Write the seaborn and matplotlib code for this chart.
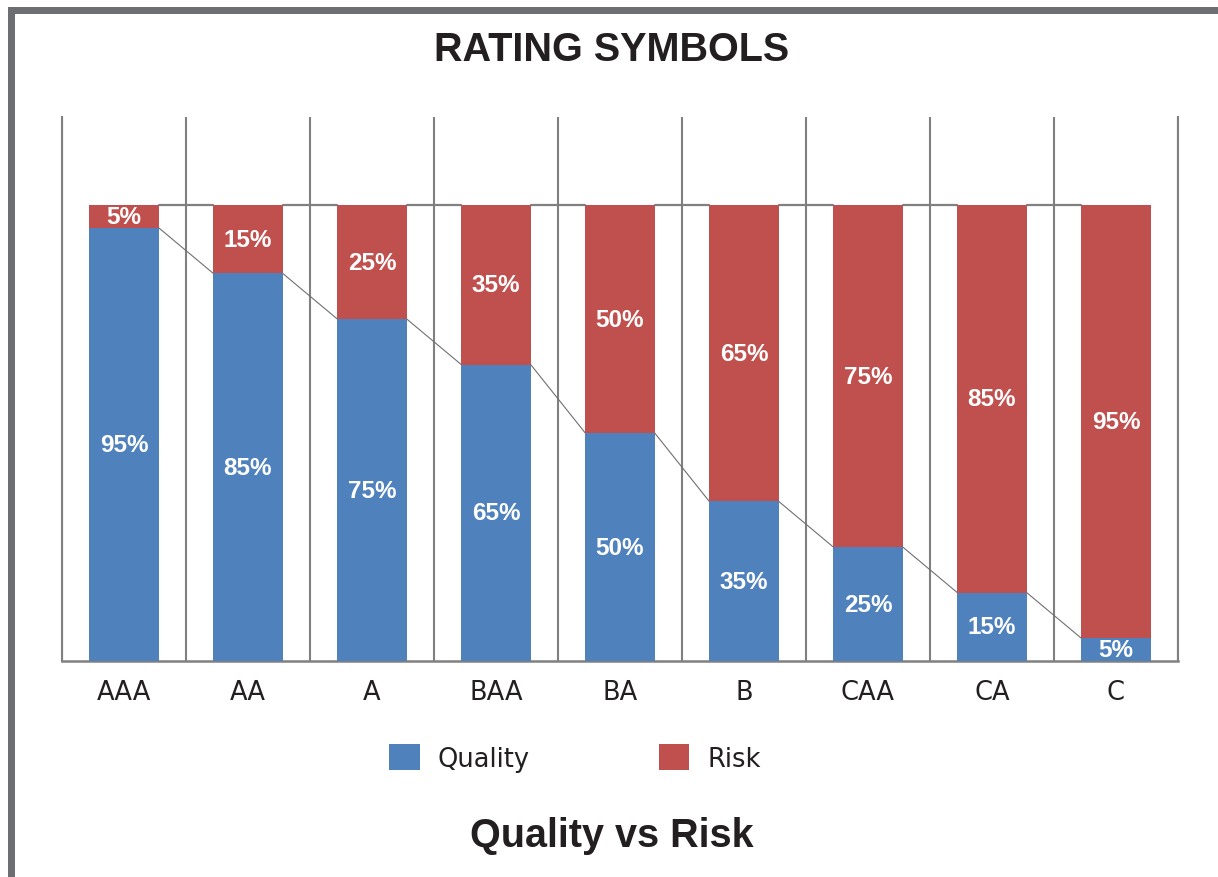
import numpy as np
import matplotlib
matplotlib.use("Agg")
import matplotlib.pyplot as plt
from matplotlib.patches import Rectangle
import seaborn as sns

sns.set_theme(style="white")
plt.rcParams["font.family"] = ["Liberation Sans", "DejaVu Sans"]

# chart data
ratings = ["AAA", "AA", "A", "BAA", "BA", "B", "CAA", "CA", "C"]
quality = [95, 85, 75, 65, 50, 35, 25, 15, 5]
risk = [5, 15, 25, 35, 50, 65, 75, 85, 95]

BLUE = "#4F81BD"
RED = "#C0504D"
GRID = "#808080"
FRAME = "#6d6e71"
INK = "#231f20"
BAR_W = 0.56

total = np.array(quality) + np.array(risk)

W, H = 1218, 878
fig = plt.figure(figsize=(W / 100, H / 100), dpi=100)
ax = fig.add_axes([62 / W, 1 - 662 / H, (1178 - 62) / W, (662 - 118) / H])

# red drawn as full stack, blue on top of it
sns.barplot(x=ratings, y=total, color=RED, saturation=1, width=BAR_W, ax=ax,
            linewidth=0, edgecolor=RED, zorder=3)
sns.barplot(x=ratings, y=quality, color=BLUE, saturation=1, width=BAR_W, ax=ax,
            linewidth=0, edgecolor=BLUE, zorder=3)

# series lines between bars
for i in range(len(ratings) - 1):
    xs = [i + BAR_W / 2, i + 1 - BAR_W / 2]
    ax.plot(xs, [total[i], total[i + 1]], color=GRID, lw=1.6, zorder=2)
    ax.plot(xs, [quality[i], quality[i + 1]], color="#707070", lw=0.8, zorder=2)

# value labels
for i in range(len(ratings)):
    ax.text(i, quality[i] / 2, f"{quality[i]}%", ha="center", va="center",
            color="white", fontsize=17.5, fontweight="bold", zorder=5)
    ax.text(i, quality[i] + risk[i] / 2, f"{risk[i]}%", ha="center", va="center",
            color="white", fontsize=17.5, fontweight="bold", zorder=5)

ax.set_xlim(-0.5, len(ratings) - 0.5)
ax.set_ylim(0, 119.3)
ax.set_yticks([])
ax.set_xticks(np.arange(-0.5, len(ratings), 1), minor=True)
ax.grid(which="minor", axis="x", color=GRID, lw=1.5)
ax.grid(which="major", visible=False)
ax.set_axisbelow(True)
ax.tick_params(axis="x", which="both", length=0, pad=13)
for lab in ax.get_xticklabels():
    lab.set_fontfamily("DejaVu Sans")
    lab.set_fontsize(18.5)
    lab.set_color(INK)
ax.set_xlabel("")
ax.set_ylabel("")
ax.spines["top"].set_visible(False)
for side in ["left", "right"]:
    ax.spines[side].set_color(GRID)
    ax.spines[side].set_linewidth(1.5)
ax.spines["bottom"].set_color(GRID)
ax.spines["bottom"].set_linewidth(1.8)

leg = fig.legend(handles=[ax.containers[1], ax.containers[0]], labels=["Quality", "Risk"],
                 loc="center", bbox_to_anchor=(575 / W, 1 - 759 / H), ncol=2, frameon=False,
                 handlelength=1.2, handleheight=1.2, handletextpad=0.7, columnspacing=5.0,
                 prop={"family": "DejaVu Sans", "size": 18.5})
for t in leg.get_texts():
    t.set_color(INK)

fig.text(612 / W, 1 - 50 / H, "RATING SYMBOLS", ha="center", va="center",
         fontsize=28.5, fontweight="bold", color=INK)
fig.text(612 / W, 1 - 836 / H, "Quality vs Risk", ha="center", va="center",
         fontsize=28.5, fontweight="bold", color=INK)

# outer frame (top and left edges)
fig.add_artist(Rectangle((8 / W, 1 - 15 / H), 1 - 8 / W, 7 / H, transform=fig.transFigure,
                         color=FRAME, lw=0))
fig.add_artist(Rectangle((8 / W, 0), 7 / W, 1 - 8 / H, transform=fig.transFigure,
                         color=FRAME, lw=0))

fig.savefig("out.png", dpi=100)
